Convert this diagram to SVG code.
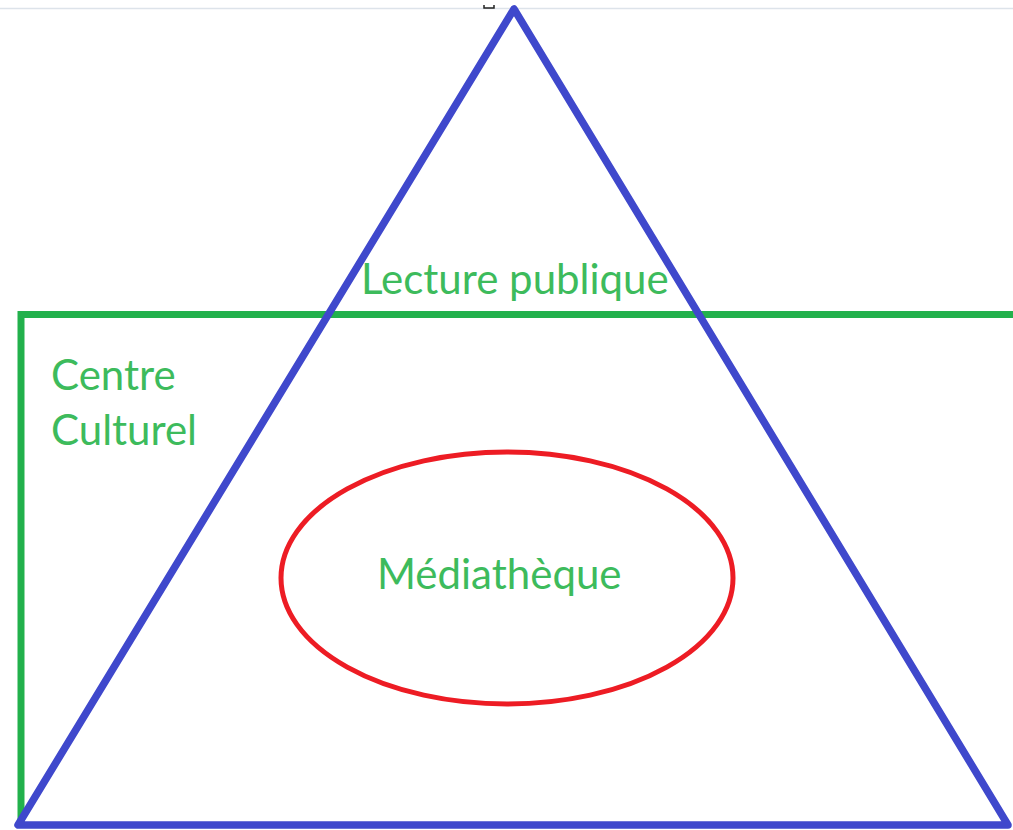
<svg xmlns="http://www.w3.org/2000/svg" width="1013" height="830" viewBox="0 0 1013 830">
<style>
.lbl{font-family:Lato,"Open Sans",sans-serif;font-size:42px;fill:#3dbb5c}
</style>
<rect width="1013" height="830" fill="#fff"/>
<line x1="0" y1="8.5" x2="1013" y2="8.5" stroke="#dde3ea" stroke-width="1.5"/>
<path d="M484 5 v3 h10 v-3" fill="none" stroke="#222" stroke-width="1.5"/>
<g id="centre-culturel">
<polyline points="1016,314.5 21,314.5 21,826" fill="none" stroke="#22b14c" stroke-width="7"/>
<text class="lbl" x="51" y="390">Centre</text>
<text class="lbl" x="51" y="445">Culturel</text>
</g>
<g id="lecture-publique">
<polygon points="514,9 18,825 1008,825" fill="none" stroke="#3f48cc" stroke-width="7.5" stroke-linejoin="round"/>
<text class="lbl" x="361" y="294">Lecture publique</text>
</g>
<g id="mediatheque">
<ellipse cx="507" cy="578" rx="226" ry="126" fill="none" stroke="#ed1c24" stroke-width="5"/>
<text class="lbl" x="377" y="589">Médiathèque</text>
</g>
<g id="connectors"/>
</svg>
